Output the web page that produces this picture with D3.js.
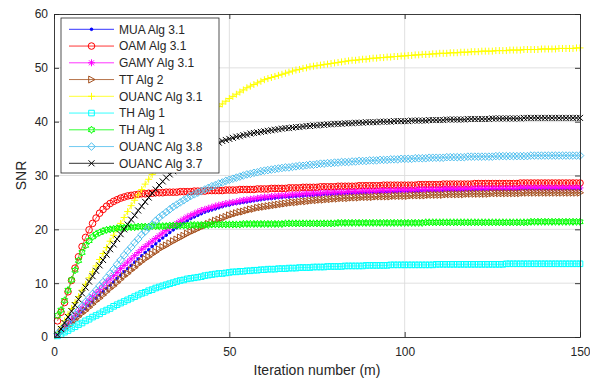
<!DOCTYPE html>
<html>
<head>
<meta charset="utf-8">
<script src="https://cdn.jsdelivr.net/npm/d3@7"></script>
<style>
  body { margin: 0; background: #fff; }
  svg { display: block; }
  text { font-family: "Liberation Sans", Arial, Helvetica, sans-serif; fill: #262626; }
</style>
</head>
<body>
<svg id="chart" width="590" height="378"></svg>
<script>
// iteration index (x) and SNR per algorithm
const iterations = d3.range(1, 151);

const muaAlg31 = [
  0.4,1.0,1.6,2.2,2.8,3.4,4.0,4.7,5.3,5.9,
  6.5,7.2,7.8,8.4,9.0,9.6,10.2,10.9,11.5,12.1,
  12.7,13.3,13.9,14.5,15.1,15.7,16.2,16.8,17.3,17.9,
  18.4,18.9,19.4,19.9,20.3,20.8,21.2,21.6,22.0,22.3,
  22.6,22.9,23.2,23.4,23.6,23.8,24.0,24.2,24.4,24.5,
  24.7,24.8,24.9,25.0,25.1,25.2,25.3,25.4,25.5,25.6,
  25.7,25.7,25.8,25.9,25.9,26.0,26.0,26.1,26.1,26.2,
  26.2,26.3,26.3,26.3,26.4,26.4,26.5,26.5,26.5,26.6,
  26.6,26.6,26.7,26.7,26.7,26.8,26.8,26.8,26.8,26.9,
  26.9,26.9,26.9,27.0,27.0,27.0,27.0,27.0,27.1,27.1,
  27.1,27.1,27.1,27.1,27.2,27.2,27.2,27.2,27.2,27.2,
  27.2,27.3,27.3,27.3,27.3,27.3,27.3,27.3,27.3,27.3,
  27.4,27.4,27.4,27.4,27.4,27.4,27.4,27.4,27.4,27.4,
  27.4,27.4,27.5,27.5,27.5,27.5,27.5,27.5,27.5,27.5,
  27.5,27.5,27.5,27.5,27.5,27.5,27.5,27.5,27.5,27.5
];

const oamAlg31 = [
  3.0,4.6,6.4,8.4,10.5,12.8,14.9,16.8,18.5,19.9,
  21.1,22.1,23.0,23.7,24.3,24.8,25.2,25.5,25.8,26.0,
  26.2,26.3,26.4,26.5,26.6,26.6,26.7,26.7,26.8,26.8,
  26.8,26.9,26.9,26.9,26.9,27.0,27.0,27.0,27.0,27.1,
  27.1,27.1,27.1,27.2,27.2,27.2,27.2,27.2,27.3,27.3,
  27.3,27.3,27.4,27.4,27.4,27.4,27.4,27.5,27.5,27.5,
  27.5,27.6,27.6,27.6,27.6,27.6,27.7,27.7,27.7,27.7,
  27.8,27.8,27.8,27.8,27.8,27.9,27.9,27.9,27.9,27.9,
  28.0,28.0,28.0,28.0,28.0,28.0,28.1,28.1,28.1,28.1,
  28.1,28.1,28.1,28.2,28.2,28.2,28.2,28.2,28.2,28.2,
  28.2,28.2,28.2,28.3,28.3,28.3,28.3,28.3,28.3,28.3,
  28.4,28.4,28.4,28.4,28.4,28.4,28.4,28.4,28.4,28.5,
  28.5,28.5,28.5,28.5,28.5,28.5,28.5,28.5,28.5,28.5,
  28.5,28.5,28.6,28.6,28.6,28.6,28.6,28.6,28.6,28.6,
  28.6,28.6,28.6,28.6,28.6,28.6,28.6,28.6,28.6,28.6
];

const gamyAlg31 = [
  0.5,1.2,1.9,2.6,3.3,4.0,4.7,5.4,6.1,6.8,
  7.5,8.2,8.8,9.5,10.2,10.8,11.4,12.0,12.7,13.3,
  13.9,14.5,15.1,15.7,16.3,16.8,17.3,17.8,18.3,18.8,
  19.3,19.8,20.3,20.7,21.1,21.5,21.9,22.3,22.6,22.9,
  23.2,23.5,23.7,23.9,24.1,24.3,24.5,24.6,24.8,24.9,
  25.0,25.1,25.3,25.4,25.5,25.6,25.7,25.8,25.9,26.0,
  26.0,26.1,26.2,26.2,26.3,26.3,26.4,26.4,26.5,26.5,
  26.6,26.6,26.6,26.7,26.7,26.7,26.8,26.8,26.8,26.9,
  26.9,26.9,26.9,27.0,27.0,27.0,27.0,27.1,27.1,27.1,
  27.1,27.1,27.2,27.2,27.2,27.2,27.2,27.3,27.3,27.3,
  27.3,27.3,27.3,27.4,27.4,27.4,27.4,27.4,27.4,27.4,
  27.5,27.5,27.5,27.5,27.5,27.5,27.5,27.5,27.5,27.6,
  27.6,27.6,27.6,27.6,27.6,27.6,27.6,27.6,27.6,27.6,
  27.6,27.6,27.7,27.7,27.7,27.7,27.7,27.7,27.7,27.7,
  27.7,27.7,27.7,27.7,27.7,27.7,27.7,27.7,27.7,27.7
];

const ttAlg2 = [
  0.3,0.9,1.5,2.0,2.6,3.2,3.8,4.4,4.9,5.5,
  6.1,6.7,7.2,7.8,8.4,9.0,9.5,10.1,10.7,11.3,
  11.8,12.4,12.9,13.5,14.0,14.5,14.9,15.4,15.8,16.3,
  16.7,17.0,17.4,17.8,18.1,18.5,18.8,19.2,19.5,19.8,
  20.1,20.4,20.7,21.0,21.3,21.6,21.8,22.1,22.3,22.6,
  22.8,23.0,23.2,23.3,23.5,23.7,23.8,24.0,24.1,24.2,
  24.3,24.4,24.5,24.6,24.7,24.8,24.9,25.0,25.0,25.1,
  25.2,25.2,25.3,25.4,25.4,25.5,25.5,25.6,25.6,25.7,
  25.7,25.8,25.8,25.8,25.9,25.9,25.9,26.0,26.0,26.0,
  26.0,26.1,26.1,26.1,26.1,26.1,26.2,26.2,26.2,26.2,
  26.2,26.3,26.3,26.3,26.3,26.3,26.4,26.4,26.4,26.4,
  26.4,26.5,26.5,26.5,26.5,26.5,26.5,26.6,26.6,26.6,
  26.6,26.6,26.6,26.6,26.7,26.7,26.7,26.7,26.7,26.7,
  26.7,26.7,26.7,26.8,26.8,26.8,26.8,26.8,26.8,26.8,
  26.8,26.8,26.8,26.8,26.8,26.8,26.8,26.8,26.8,26.8
];

const ouancAlg31 = [
  0.8,1.9,3.0,4.2,5.3,6.4,7.5,8.7,9.8,11.0,
  12.1,13.2,14.4,15.5,16.6,17.8,18.9,20.0,21.1,22.2,
  23.3,24.4,25.4,26.4,27.4,28.4,29.3,30.2,31.0,31.8,
  32.6,33.4,34.2,34.9,35.6,36.3,37.0,37.7,38.3,38.9,
  39.5,40.1,40.7,41.2,41.8,42.3,42.8,43.3,43.8,44.3,
  44.7,45.1,45.5,45.9,46.3,46.6,46.9,47.2,47.5,47.8,
  48.0,48.2,48.4,48.6,48.8,49.0,49.2,49.4,49.6,49.7,
  49.9,50.0,50.2,50.3,50.4,50.5,50.6,50.7,50.8,50.9,
  51.0,51.1,51.2,51.3,51.4,51.4,51.5,51.6,51.6,51.7,
  51.8,51.8,51.9,51.9,52.0,52.0,52.1,52.1,52.2,52.2,
  52.3,52.3,52.4,52.4,52.5,52.5,52.5,52.6,52.6,52.7,
  52.7,52.7,52.8,52.8,52.8,52.9,52.9,52.9,53.0,53.0,
  53.0,53.1,53.1,53.1,53.1,53.2,53.2,53.2,53.2,53.3,
  53.3,53.3,53.3,53.4,53.4,53.4,53.4,53.4,53.5,53.5,
  53.5,53.5,53.5,53.6,53.6,53.6,53.6,53.6,53.7,53.7
];

const thAlg1Sq = [
  0.2,0.5,0.9,1.2,1.6,1.9,2.3,2.6,3.0,3.3,
  3.7,4.0,4.3,4.7,5.0,5.3,5.7,6.0,6.3,6.6,
  6.9,7.2,7.5,7.8,8.1,8.3,8.6,8.8,9.1,9.3,
  9.5,9.7,9.9,10.1,10.3,10.5,10.6,10.8,10.9,11.0,
  11.1,11.2,11.4,11.5,11.6,11.7,11.8,11.8,11.9,12.0,
  12.1,12.1,12.2,12.2,12.3,12.3,12.4,12.4,12.5,12.5,
  12.6,12.6,12.6,12.7,12.7,12.7,12.8,12.8,12.8,12.9,
  12.9,12.9,12.9,13.0,13.0,13.0,13.0,13.1,13.1,13.1,
  13.1,13.1,13.2,13.2,13.2,13.2,13.2,13.2,13.3,13.3,
  13.3,13.3,13.3,13.3,13.3,13.4,13.4,13.4,13.4,13.4,
  13.4,13.4,13.4,13.4,13.4,13.4,13.4,13.4,13.5,13.5,
  13.5,13.5,13.5,13.5,13.5,13.5,13.5,13.5,13.5,13.5,
  13.5,13.5,13.5,13.5,13.5,13.5,13.5,13.5,13.6,13.6,
  13.6,13.6,13.6,13.6,13.6,13.6,13.6,13.6,13.6,13.6,
  13.6,13.6,13.6,13.6,13.6,13.6,13.6,13.6,13.6,13.6
];

const thAlg1Hex = [
  4.0,5.0,6.8,8.7,10.6,12.4,14.2,15.7,17.0,17.9,
  18.6,19.1,19.4,19.7,19.9,20.0,20.1,20.2,20.3,20.3,
  20.4,20.4,20.4,20.5,20.5,20.5,20.5,20.6,20.6,20.6,
  20.6,20.6,20.7,20.7,20.7,20.7,20.7,20.7,20.8,20.8,
  20.8,20.8,20.8,20.8,20.9,20.9,20.9,20.9,20.9,20.9,
  20.9,20.9,20.9,21.0,21.0,21.0,21.0,21.0,21.0,21.0,
  21.0,21.0,21.0,21.0,21.0,21.1,21.1,21.1,21.1,21.1,
  21.1,21.1,21.1,21.1,21.1,21.1,21.1,21.1,21.1,21.1,
  21.2,21.2,21.2,21.2,21.2,21.2,21.2,21.2,21.2,21.2,
  21.2,21.2,21.2,21.2,21.2,21.2,21.2,21.2,21.2,21.2,
  21.2,21.2,21.2,21.2,21.2,21.3,21.3,21.3,21.3,21.3,
  21.3,21.3,21.3,21.3,21.3,21.3,21.3,21.3,21.3,21.3,
  21.3,21.3,21.3,21.3,21.3,21.3,21.3,21.3,21.3,21.3,
  21.3,21.3,21.3,21.3,21.3,21.4,21.4,21.4,21.4,21.4,
  21.4,21.4,21.4,21.4,21.4,21.4,21.4,21.4,21.4,21.4
];

const ouancAlg38 = [
  0.6,1.3,2.0,2.8,3.5,4.2,5.0,5.7,6.5,7.2,
  8.0,8.7,9.5,10.2,11.0,11.8,12.6,13.5,14.3,15.2,
  16.0,16.7,17.5,18.2,19.0,19.6,20.3,20.9,21.6,22.2,
  22.7,23.2,23.7,24.2,24.6,25.0,25.4,25.8,26.2,26.5,
  26.8,27.1,27.4,27.7,28.0,28.2,28.5,28.7,29.0,29.2,
  29.4,29.6,29.8,30.0,30.2,30.3,30.5,30.6,30.8,30.9,
  31.0,31.1,31.2,31.3,31.4,31.5,31.5,31.6,31.7,31.8,
  31.8,31.9,32.0,32.0,32.1,32.2,32.2,32.3,32.3,32.4,
  32.4,32.5,32.5,32.5,32.6,32.6,32.7,32.7,32.7,32.8,
  32.8,32.8,32.9,32.9,32.9,33.0,33.0,33.0,33.1,33.1,
  33.1,33.1,33.2,33.2,33.2,33.2,33.3,33.3,33.3,33.3,
  33.3,33.4,33.4,33.4,33.4,33.4,33.4,33.5,33.5,33.5,
  33.5,33.5,33.5,33.5,33.5,33.6,33.6,33.6,33.6,33.6,
  33.6,33.6,33.6,33.6,33.6,33.7,33.7,33.7,33.7,33.7,
  33.7,33.7,33.7,33.7,33.7,33.7,33.7,33.7,33.7,33.7
];

const ouancAlg37 = [
  0.4,1.5,2.6,3.7,4.8,5.9,7.0,8.1,9.2,10.3,
  11.3,12.3,13.3,14.3,15.3,16.3,17.2,18.2,19.1,20.0,
  20.9,21.8,22.6,23.5,24.3,25.1,25.9,26.7,27.4,28.2,
  28.9,29.6,30.2,30.8,31.4,32.0,32.5,33.0,33.5,33.9,
  34.3,34.7,35.0,35.3,35.6,35.9,36.1,36.4,36.6,36.8,
  37.0,37.2,37.3,37.5,37.6,37.8,37.9,38.0,38.1,38.2,
  38.3,38.4,38.5,38.6,38.7,38.8,38.8,38.9,39.0,39.0,
  39.1,39.2,39.2,39.3,39.3,39.4,39.4,39.5,39.5,39.6,
  39.6,39.6,39.7,39.7,39.7,39.8,39.8,39.8,39.9,39.9,
  39.9,39.9,40.0,40.0,40.0,40.0,40.1,40.1,40.1,40.1,
  40.1,40.2,40.2,40.2,40.2,40.2,40.3,40.3,40.3,40.3,
  40.3,40.4,40.4,40.4,40.4,40.4,40.4,40.5,40.5,40.5,
  40.5,40.5,40.5,40.5,40.6,40.6,40.6,40.6,40.6,40.6,
  40.6,40.6,40.6,40.7,40.7,40.7,40.7,40.7,40.7,40.7,
  40.7,40.7,40.7,40.7,40.7,40.7,40.7,40.7,40.7,40.7
];

const seriesLabels = [
  'MUA Alg 3.1', 'OAM Alg 3.1', 'GAMY Alg 3.1', 'TT Alg 2', 'OUANC Alg 3.1',
  'TH Alg 1', 'TH Alg 1', 'OUANC Alg 3.8', 'OUANC Alg 3.7'
];
const xTicks = [0, 50, 100, 150];
const yTicks = [0, 10, 20, 30, 40, 50, 60];

// styling for each series, same order as the labels
const styles = [
  { color: '#0000ff', marker: 'point' },
  { color: '#ff0000', marker: 'circle' },
  { color: '#ff00ff', marker: 'asterisk' },
  { color: '#a5501e', marker: 'triRight' },
  { color: '#ffff00', marker: 'plus' },
  { color: '#00ffff', marker: 'square' },
  { color: '#00ff00', marker: 'hexagram' },
  { color: '#4dbeee', marker: 'diamond' },
  { color: '#000000', marker: 'cross' }
];
const seriesValues = [muaAlg31, oamAlg31, gamyAlg31, ttAlg2, ouancAlg31, thAlg1Sq, thAlg1Hex, ouancAlg38, ouancAlg37];

const series = seriesLabels.map((name, i) => ({
  name,
  color: styles[i].color,
  marker: styles[i].marker,
  points: seriesValues[i].map((v, j) => ({ x: iterations[j], y: v }))
}));

// marker shapes, roughly MATLAB sized
function markerPath(type) {
  switch (type) {
    case 'point': return 'M-1.3,0a1.3,1.3 0 1,0 2.6,0a1.3,1.3 0 1,0 -2.6,0';
    case 'circle': return 'M-3.3,0a3.3,3.3 0 1,0 6.6,0a3.3,3.3 0 1,0 -6.6,0';
    case 'square': return 'M-2.8,-2.8H2.8V2.8H-2.8Z';
    case 'diamond': return 'M0,-3.8L3.8,0L0,3.8L-3.8,0Z';
    case 'plus': return 'M-3.5,0H3.5M0,-3.5V3.5';
    case 'cross': return 'M-3,-3L3,3M-3,3L3,-3';
    case 'asterisk': return 'M-3.5,0H3.5M0,-3.5V3.5M-2.5,-2.5L2.5,2.5M-2.5,2.5L2.5,-2.5';
    case 'triRight': return 'M-2.8,-3.5L3.5,0L-2.8,3.5Z';
    case 'hexagram': {
      const pts = [];
      for (let k = 0; k < 12; k++) {
        const r = k % 2 === 0 ? 3.6 : 2.1;
        const a = -Math.PI / 2 + k * Math.PI / 6;
        pts.push([r * Math.cos(a), r * Math.sin(a)]);
      }
      return 'M' + pts.map(p => p[0].toFixed(2) + ',' + p[1].toFixed(2)).join('L') + 'Z';
    }
  }
  return '';
}

const svg = d3.select('#chart');
const margin = { top: 14, right: 10, bottom: 41, left: 54 };
const width = 590 - margin.left - margin.right;
const height = 378 - margin.top - margin.bottom;
const axisColor = '#262626';

const x = d3.scaleLinear().domain([0, 150]).range([0, width]);
const y = d3.scaleLinear().domain([0, 60]).range([height, 0]);

const g = svg.append('g').attr('transform', `translate(${margin.left},${margin.top})`);

// grid
g.append('g')
  .selectAll('line')
  .data(xTicks.slice(1, -1))
  .enter()
  .append('line')
  .attr('x1', d => x(d)).attr('x2', d => x(d))
  .attr('y1', 0).attr('y2', height)
  .attr('stroke', '#dcdcdc').attr('stroke-width', 0.9);

g.append('g')
  .selectAll('line')
  .data(yTicks.slice(1, -1))
  .enter()
  .append('line')
  .attr('x1', 0).attr('x2', width)
  .attr('y1', d => y(d)).attr('y2', d => y(d))
  .attr('stroke', '#dcdcdc').attr('stroke-width', 0.9);

// series: line then markers, in plot order
const line = d3.line().x(d => x(d.x)).y(d => y(d.y));

series.forEach(s => {
  const sg = g.append('g');
  sg.append('path')
    .datum(s.points)
    .attr('d', line)
    .attr('fill', 'none')
    .attr('stroke', s.color)
    .attr('stroke-width', 0.7);

  sg.selectAll('path.mk')
    .data(s.points)
    .enter()
    .append('path')
    .attr('class', 'mk')
    .attr('transform', d => `translate(${x(d.x)},${y(d.y)})`)
    .attr('d', markerPath(s.marker))
    .attr('fill', s.marker === 'point' ? s.color : 'none')
    .attr('stroke', s.color)
    .attr('stroke-width', 1);
});

// axes (box with inward ticks)
function styleAxis(sel) {
  sel.selectAll('path.domain').attr('stroke', axisColor).attr('stroke-width', 0.9);
  sel.selectAll('.tick line').attr('stroke', axisColor).attr('stroke-width', 0.9);
  sel.selectAll('.tick text')
    .attr('fill', axisColor)
    .style('font-size', '12px')
    .style('font-family', '"Liberation Sans", Arial, sans-serif');
}

g.append('g')
  .attr('transform', `translate(0,${height})`)
  .call(d3.axisBottom(x).tickValues(xTicks).tickSizeInner(-5).tickSizeOuter(0).tickPadding(10))
  .call(styleAxis);

g.append('g')
  .call(d3.axisTop(x).tickValues(xTicks).tickSizeInner(-5).tickSizeOuter(0).tickFormat(''))
  .call(styleAxis);

g.append('g')
  .call(d3.axisLeft(y).tickValues(yTicks).tickSizeInner(-5).tickSizeOuter(0).tickPadding(6))
  .call(styleAxis);

g.append('g')
  .attr('transform', `translate(${width},0)`)
  .call(d3.axisRight(y).tickValues(yTicks).tickSizeInner(-5).tickSizeOuter(0).tickFormat(''))
  .call(styleAxis);

// axis labels
svg.append('text')
  .attr('x', margin.left + width / 2)
  .attr('y', 375)
  .attr('text-anchor', 'middle')
  .style('font-size', '14px')
  .text('Iteration number (m)');

svg.append('text')
  .attr('transform', `translate(26,${margin.top + height / 2}) rotate(-90)`)
  .attr('text-anchor', 'middle')
  .style('font-size', '14px')
  .text('SNR');

// legend
const legend = svg.append('g');
legend.append('rect')
  .attr('x', 61).attr('y', 18)
  .attr('width', 158).attr('height', 155)
  .attr('fill', '#fff')
  .attr('stroke', axisColor)
  .attr('stroke-width', 0.8);

const rowY = i => 29.3 + i * 16.75;

const rows = legend.selectAll('g.row')
  .data(series)
  .enter()
  .append('g')
  .attr('transform', (d, i) => `translate(0,${rowY(i)})`);

rows.append('line')
  .attr('x1', 69).attr('x2', 114)
  .attr('y1', 0).attr('y2', 0)
  .attr('stroke', d => d.color)
  .attr('stroke-width', 0.8);

rows.append('path')
  .attr('transform', 'translate(91.5,0)')
  .attr('d', d => markerPath(d.marker))
  .attr('fill', d => d.marker === 'point' ? d.color : 'none')
  .attr('stroke', d => d.color)
  .attr('stroke-width', 1);

rows.append('text')
  .attr('x', 119)
  .attr('y', 4.3)
  .style('font-size', '12px')
  .text(d => d.name);
</script>
</body>
</html>
